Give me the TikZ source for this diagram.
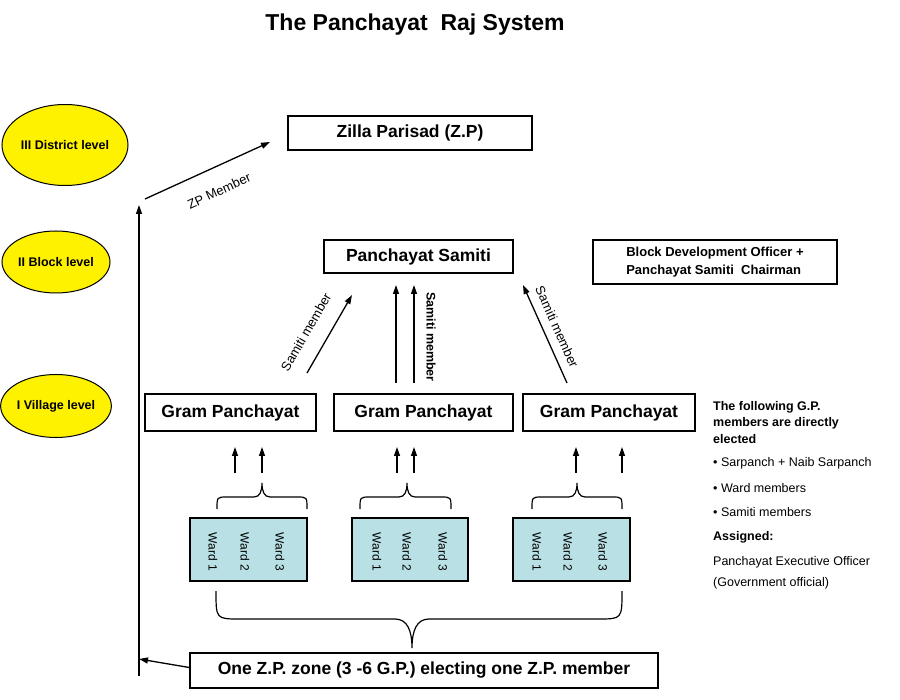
\documentclass[tikz,border=0pt]{standalone}
\usepackage{fontspec}
\setmainfont{Liberation Sans}
\usetikzlibrary{arrows.meta,shapes.geometric}
\definecolor{wardfill}{RGB}{185,224,228}
\newcommand\mysmallbrace[3]{%
  \draw[brc] (#1,509) .. controls (#1,497) .. ({#1+10},497) -- ({#2-8},497)
    .. controls ({#2-2},497) and (#2,491) .. (#2,483)
    .. controls (#2,491) and ({#2+2},497) .. ({#2+8},497) -- ({#3-10},497)
    .. controls (#3,497) .. (#3,509);}
\begin{document}
\begin{tikzpicture}[x=1pt,y=-1pt,
  box/.style={draw,line width=1.3pt,inner sep=0pt,font=\bfseries\fontsize{17.5}{20}\selectfont},
  lvl/.style={draw,fill=yellow,ellipse,inner sep=0pt,line width=1pt,font=\bfseries\fontsize{12.5}{14}\selectfont},
  ward/.style={draw,fill=wardfill,line width=1.2pt,inner sep=0pt},
  wl/.style={rotate=-90,inner sep=0pt,font=\fontsize{12}{14}\selectfont},
  arr/.style={line width=1.3pt,-{Triangle[length=9pt,width=6pt]}},
  brc/.style={line width=1.2pt},
  lab/.style={inner sep=0pt,font=\fontsize{13}{15}\selectfont},
  side/.style={anchor=west,inner sep=0pt,font=\fontsize{12.5}{14}\selectfont}
]
\path[use as bounding box, fill=white] (0,0) rectangle (900,700);

% title
\node[font=\bfseries\fontsize{23}{26}\selectfont] (title) at (415,25) {The Panchayat\ \ Raj System};

% level ellipses
\node[lvl, minimum width=126pt, minimum height=81pt] (l3) at (65,145) {III District level};
\node[lvl, minimum width=108pt, minimum height=62pt] (l2) at (56,262) {II Block level};
\node[lvl, minimum width=90pt, minimum height=63pt] (l1) at (56,406) {I Village level};

% main boxes
\node[box, minimum width=244pt, minimum height=34pt] (zp) at (410,133) {Zilla Parisad (Z.P)};
\node[box, minimum width=189pt, minimum height=33pt] (ps) at (418.5,256.5) {Panchayat Samiti};
\node[draw, line width=1.3pt, inner sep=0pt, minimum width=244pt, minimum height=44pt,
      align=left, font=\bfseries\fontsize{13}{17.5}\selectfont] (bdo) at (715,262)
      {Block Development Officer +\\Panchayat Samiti\ \ Chairman};
\node[box, minimum width=171pt, minimum height=37pt] (gp1) at (230.5,412.5) {Gram Panchayat};
\node[box, minimum width=179pt, minimum height=37pt] (gp2) at (423.5,412.5) {Gram Panchayat};
\node[box, minimum width=172pt, minimum height=37pt] (gp3) at (609,412.5) {Gram Panchayat};

% ward boxes
\node[ward, minimum width=117pt, minimum height=63pt] (w1) at (248.5,549.5) {};
\node[ward, minimum width=116pt, minimum height=63pt] (w2) at (410,549.5) {};
\node[ward, minimum width=117pt, minimum height=63pt] (w3) at (571.5,549.5) {};
\node[wl] (w1a) at (213,552) {Ward 1};
\node[wl] (w1b) at (245,552) {Ward 2};
\node[wl] (w1c) at (280,552) {Ward 3};
\node[wl] (w2a) at (377,552) {Ward 1};
\node[wl] (w2b) at (407,552) {Ward 2};
\node[wl] (w2c) at (443,552) {Ward 3};
\node[wl] (w3a) at (537,552) {Ward 1};
\node[wl] (w3b) at (568,552) {Ward 2};
\node[wl] (w3c) at (603,552) {Ward 3};

% zone box
\node[box, minimum width=468pt, minimum height=35pt] (zone) at (424,670.5) {One Z.P. zone (3 -6 G.P.) electing one Z.P. member};

% small braces
\mysmallbrace{217}{262}{307}
\mysmallbrace{360}{407}{451}
\mysmallbrace{532}{577}{622}

% big brace
\draw[brc] (216,591) .. controls (216,619) .. (240,619) -- (395,619)
  .. controls (407,619) and (412,630) .. (412,648)
  .. controls (412,630) and (417,619) .. (429,619) -- (598,619)
  .. controls (622,619) .. (622,591);

% small arrows above braces
\foreach \x [count=\i] in {235,262,397,414,576,622}{
  \coordinate (sa\i) at (\x,473);
  \coordinate (sb\i) at (\x,447);
  \draw[arr] (sa\i) -- (sb\i);
}

% samiti member arrows
\coordinate (s1a) at (307,373); \coordinate (s1b) at (352,295);
\coordinate (s2a) at (396,383); \coordinate (s2b) at (396,285);
\coordinate (s3a) at (414,383); \coordinate (s3b) at (414,285);
\coordinate (s4a) at (567,383); \coordinate (s4b) at (523,285);
\draw[arr] (s1a) -- (s1b);
\draw[arr] (s2a) -- (s2b);
\draw[arr] (s3a) -- (s3b);
\draw[arr] (s4a) -- (s4b);
\node[lab, rotate=60] (sm1) at (306,332) {Samiti member};
\node[lab, rotate=-90, font=\bfseries\fontsize{12.5}{15}\selectfont] (sm2) at (431,337) {Samiti member};
\node[lab, rotate=-66] (sm3) at (557,327) {Samiti member};

% ZP member path
\coordinate (vb) at (139,676);
\coordinate (vt) at (139,205);
\coordinate (vm) at (139,659);
\coordinate (zs) at (145,199);
\coordinate (ze) at (270,142);
\draw[line width=1.3pt] (vb) -- (vm);
\draw[arr] (vm) -- (vt);
\draw[arr] ([yshift=3pt]zone.west) -- (vm);
\draw[arr] (zs) -- (ze);
\node[lab, rotate=24.5] (zpl) at (219,191) {ZP Member};

% side text
\node[side, font=\bfseries\fontsize{12.5}{14}\selectfont] (t1) at (713,407) {The following G.P.};
\node[side, font=\bfseries\fontsize{12.5}{14}\selectfont] (t2) at (713,423) {members are directly};
\node[side, font=\bfseries\fontsize{12.5}{14}\selectfont] (t3) at (713,439) {elected};
\node[side] (t4) at (713,463) {• Sarpanch + Naib Sarpanch};
\node[side] (t5) at (713,488) {• Ward members};
\node[side] (t6) at (713,512) {• Samiti members};
\node[side, font=\bfseries\fontsize{12.5}{14}\selectfont] (t7) at (713,537) {Assigned:};
\node[side] (t8) at (713,562) {Panchayat Executive Officer};
\node[side] (t9) at (713,583) {(Government official)};
\end{tikzpicture}
\end{document}
